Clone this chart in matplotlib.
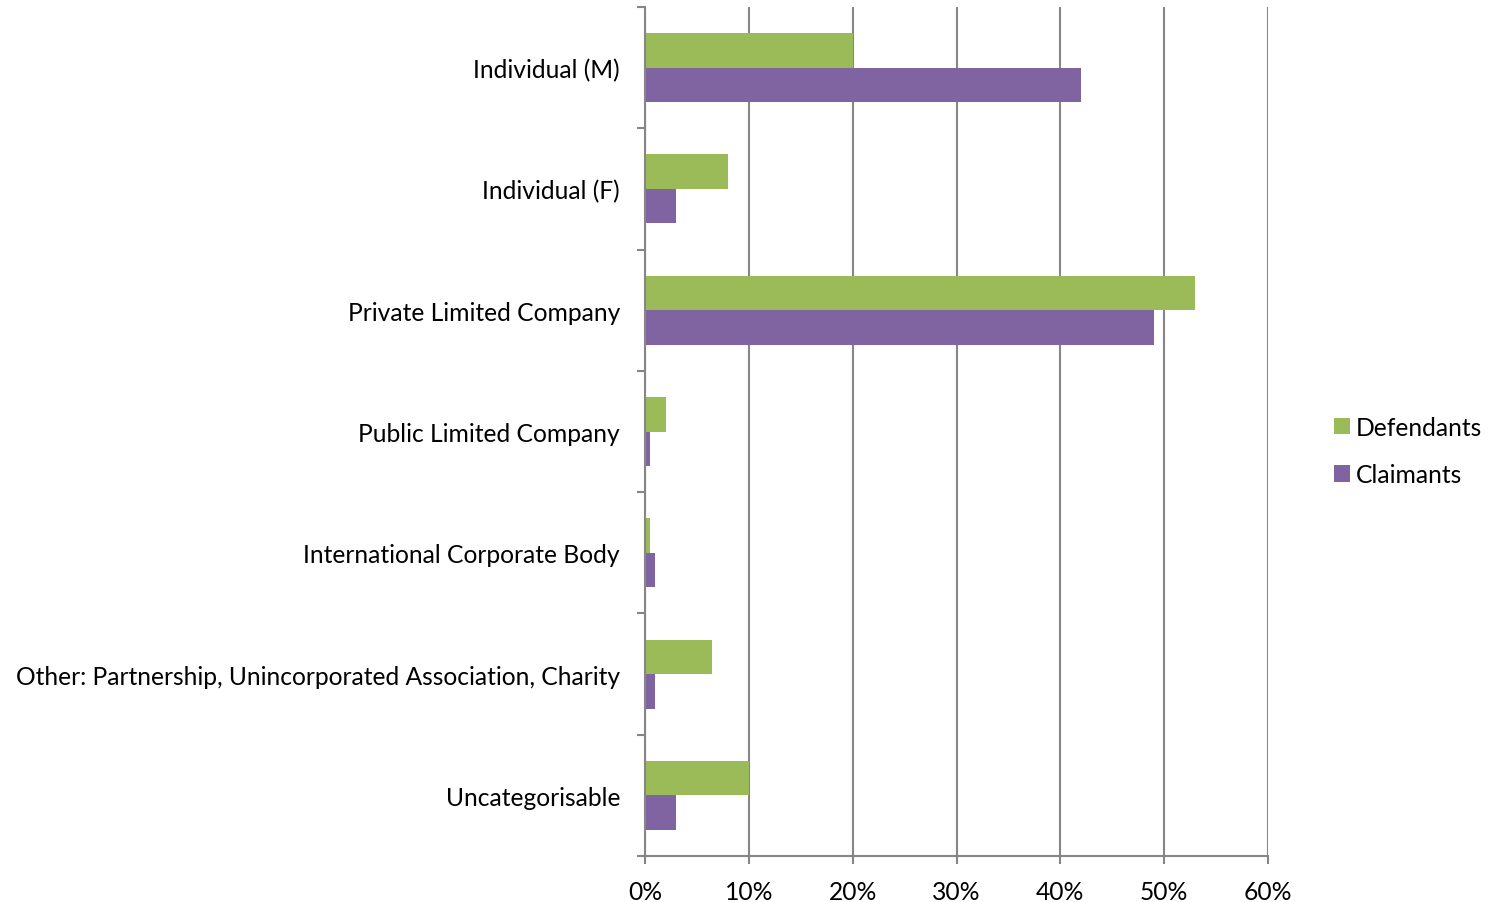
import matplotlib
matplotlib.use("Agg")
import matplotlib.pyplot as plt
import numpy as np
from matplotlib.ticker import FixedLocator, PercentFormatter

plt.rcParams['font.family'] = ['Lato', 'DejaVu Sans']

categories = ["Individual (M)", "Individual (F)", "Private Limited Company",
              "Public Limited Company", "International Corporate Body",
              "Other: Partnership, Unincorporated Association, Charity",
              "Uncategorisable"]
defendants = [20, 8, 53, 2, 0.5, 6.5, 10]
claimants = [42, 3, 49, 0.5, 1, 1, 3]
xticks = [0, 10, 20, 30, 40, 50, 60]

green = "#9BBB59"
purple = "#8064A2"
gray = "#868686"

W, H = 1492, 903
fig = plt.figure(figsize=(W / 100, H / 100), dpi=100)
ax = fig.add_axes([645 / W, 1 - 857 / H, (1268 - 645) / W, (857 - 8) / H])

n = len(categories)
y = np.arange(n)
bh = 0.285
ax.barh(y - bh / 2, defendants, height=bh, color=green, label="Defendants", zorder=3)
ax.barh(y + bh / 2, claimants, height=bh, color=purple, label="Claimants", zorder=3)

fs = 17.7
ax.set_ylim(n - 0.5, -0.5)
ax.set_xlim(0, 60)
ax.set_yticks(y)
ax.set_yticklabels(categories)
ax.yaxis.set_minor_locator(FixedLocator(np.arange(-0.5, n, 1)))
ax.tick_params(axis='y', which='major', length=0, pad=18, labelsize=fs)
ax.tick_params(axis='y', which='minor', length=6, width=1.5, color=gray)
ax.set_xticks(xticks)
ax.xaxis.set_major_formatter(PercentFormatter(decimals=0))
ax.tick_params(axis='x', which='major', length=6, width=1.5, color=gray, pad=11, labelsize=fs)

ax.grid(axis='x', color=gray, linewidth=1.5, zorder=0)
for s in ['top', 'right']:
    ax.spines[s].set_visible(False)
for s in ['left', 'bottom']:
    ax.spines[s].set_color(gray)
    ax.spines[s].set_linewidth(1.5)
ax.spines['left'].set_zorder(4)

leg = fig.legend(loc='center left', bbox_to_anchor=(1312 / W, 1 - 452 / H),
                 frameon=False, fontsize=fs, handlelength=0.65, handleheight=0.65,
                 handletextpad=0.25, labelspacing=1.0)

fig.savefig("out.png", dpi=100)
